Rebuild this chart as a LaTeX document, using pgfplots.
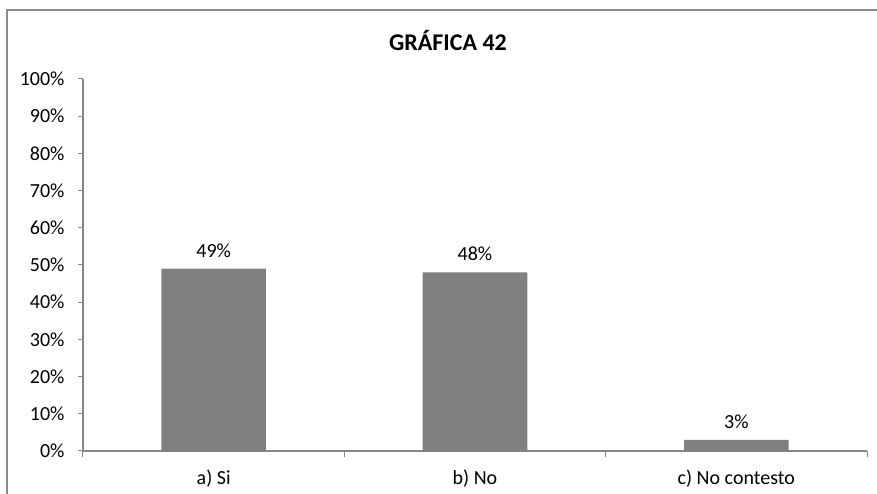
\documentclass[border=0pt]{standalone}
\usepackage{fontspec}
\setmainfont{Carlito}
\usepackage{pgfplots}
\pgfplotsset{compat=1.18}
\definecolor{barg}{RGB}{128,128,128}
\definecolor{axg}{RGB}{134,134,134}
\definecolor{frameg}{RGB}{140,140,140}
\begin{document}
\begin{tikzpicture}[x=1pt,y=1pt]
\useasboundingbox (-83,-43) rectangle (794,451);
\draw[frameg, line width=1.5pt] (800,441) -- (-76,441) -- (-76,-60);
\node[font=\fontsize{24}{28}\selectfont\bfseries] at (365,410) {GRÁFICA 42};
\begin{axis}[
  at={(0,0)}, anchor=south west,
  scale only axis, width=784pt, height=372pt,
  xmin=-0.5, xmax=2.5, ymin=0, ymax=100,
  axis lines*=left,
  axis line style={axg, line width=1.2pt},
  ytick={0,10,...,100},
  yticklabel={\pgfmathprintnumber{\tick}\%},
  xtick={0,1,2},
  xticklabels={a) Si, b) No, c) No contesto},
  minor xtick={-0.5,0.5,1.5,2.5},
  major x tick style={draw=none},
  minor x tick style={axg, line width=1pt},
  y tick style={axg, line width=1pt},
  tick align=outside,
  major tick length=5pt,
  minor tick length=6pt,
  /pgf/number format/assume math mode=true,
  tick label style={font=\fontsize{20}{24}\selectfont, text=black},
  xticklabel style={yshift=-10pt},
  yticklabel style={xshift=-10pt},
  ybar, bar width=0.4,
  nodes near coords={\pgfmathprintnumber{\pgfplotspointmeta}\%},
  nodes near coords style={font=\fontsize{20}{24}\selectfont, text=black, yshift=8pt},
]
\addplot[fill=barg, draw=none] coordinates {(0,49) (1,48) (2,3)};
\end{axis}
\end{tikzpicture}
\end{document}
